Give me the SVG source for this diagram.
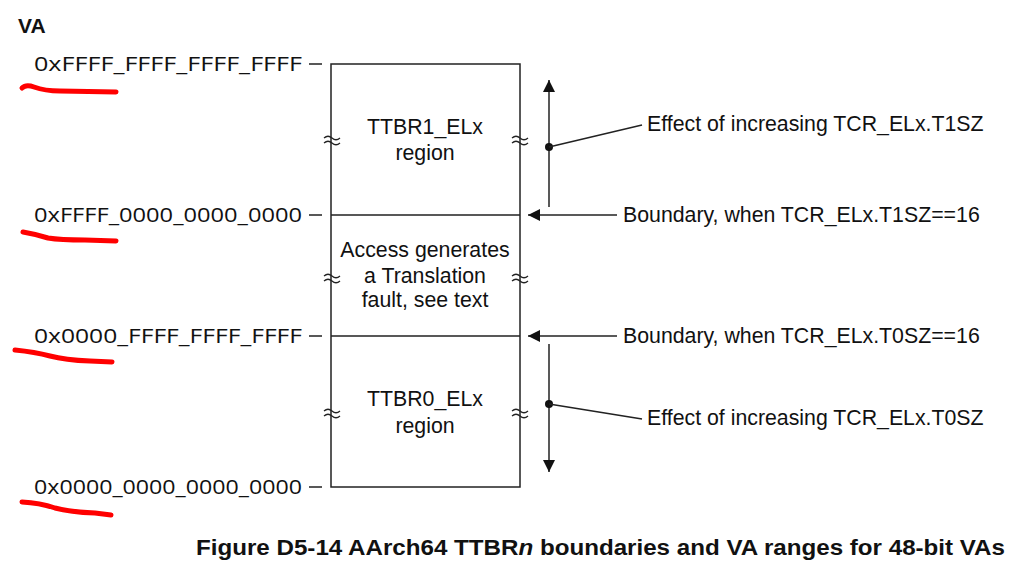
<svg xmlns="http://www.w3.org/2000/svg" width="1025" height="567" viewBox="0 0 1025 567">
<style>
.hex{font-family:"Open Sans","DejaVu Sans",sans-serif;font-size:20px;fill:#111}
.lab{font-family:"Liberation Sans",Arial,sans-serif;font-size:21.3px;fill:#111}
.ctr{text-anchor:middle}
.ln{stroke:#222;stroke-width:1.5;fill:none}
.red{stroke:#f00;stroke-width:5;fill:none;stroke-linecap:round;stroke-linejoin:round}
.brk{stroke:#222;stroke-width:1.3;fill:none}
</style>
<defs>
<marker id="ah2" viewBox="0 0 10 10" refX="10" refY="5" markerWidth="12" markerHeight="12" markerUnits="userSpaceOnUse" orient="auto"><path d="M0,0 L10,5 L0,10 z" fill="#111"/></marker>
</defs>
<rect width="1025" height="567" fill="#fff"/>
<text x="18" y="33" font-family="Liberation Sans,Arial,sans-serif" font-size="21" font-weight="bold" fill="#111">VA</text>
<g id="addresses">
<text class="hex" x="34" y="71" textLength="268" lengthAdjust="spacingAndGlyphs">0xFFFF_FFFF_FFFF_FFFF</text>
<text class="hex" x="34" y="222" textLength="268" lengthAdjust="spacingAndGlyphs">0xFFFF_0000_0000_0000</text>
<text class="hex" x="34" y="343" textLength="268" lengthAdjust="spacingAndGlyphs">0x0000_FFFF_FFFF_FFFF</text>
<text class="hex" x="34" y="494" textLength="268" lengthAdjust="spacingAndGlyphs">0x0000_0000_0000_0000</text>
<path class="ln" d="M309,64H322M309,215H322M309,336H322M309,487H322"/>
</g>
<g id="redmarks">
<path class="red" d="M22,88 Q26,84 34,87 Q45,91 60,91 L116,92"/>
<path class="red" d="M23,232 Q35,234 48,238 Q60,240 85,240 L116,241"/>
<path class="red" d="M15,350 Q35,352 50,356 Q65,360 90,361 L112,362"/>
<path class="red" d="M22,502 Q40,503 55,508 Q70,512 95,513 L111,515"/>
</g>
<g id="box">
<rect x="331" y="64" width="189" height="423" class="ln"/>
<path class="ln" d="M331,215H520M331,336H520"/>
</g>
<g id="breaks">
<path class="brk" d="M324,138 q4,-3.5 8,0 t8,0 M324,143 q4,-3.5 8,0 t8,0"/>
<path class="brk" d="M512,138 q4,-3.5 8,0 t8,0 M512,143 q4,-3.5 8,0 t8,0"/>
<path class="brk" d="M324,276 q4,-3.5 8,0 t8,0 M324,281 q4,-3.5 8,0 t8,0"/>
<path class="brk" d="M512,276 q4,-3.5 8,0 t8,0 M512,281 q4,-3.5 8,0 t8,0"/>
<path class="brk" d="M324,411 q4,-3.5 8,0 t8,0 M324,416 q4,-3.5 8,0 t8,0"/>
<path class="brk" d="M512,411 q4,-3.5 8,0 t8,0 M512,416 q4,-3.5 8,0 t8,0"/>
</g>
<g id="ttbr1">
<text class="lab ctr" x="425" y="134">TTBR1_ELx</text>
<text class="lab ctr" x="425" y="160">region</text>
</g>
<g id="fault">
<text class="lab ctr" x="425" y="257">Access generates</text>
<text class="lab ctr" x="425" y="283">a Translation</text>
<text class="lab ctr" x="425" y="307">fault, see text</text>
</g>
<g id="ttbr0">
<text class="lab ctr" x="425" y="406">TTBR0_ELx</text>
<text class="lab ctr" x="425" y="433">region</text>
</g>
<g id="connectors">
<path class="ln" d="M549,207V80" marker-end="url(#ah2)"/>
<circle cx="549" cy="147" r="4" fill="#111"/>
<path class="ln" d="M549,147L642,125"/>
<path class="ln" d="M617,215H528" marker-end="url(#ah2)"/>
<path class="ln" d="M617,336H528" marker-end="url(#ah2)"/>
<path class="ln" d="M549,344V472" marker-end="url(#ah2)"/>
<circle cx="549" cy="404" r="4" fill="#111"/>
<path class="ln" d="M549,404L642,419"/>
</g>
<g id="labels">
<text class="lab" x="647" y="131">Effect of increasing TCR_ELx.T1SZ</text>
<text class="lab" x="623" y="222">Boundary, when TCR_ELx.T1SZ==16</text>
<text class="lab" x="623" y="343">Boundary, when TCR_ELx.T0SZ==16</text>
<text class="lab" x="647" y="425">Effect of increasing TCR_ELx.T0SZ</text>
</g>
<text x="196" y="555" font-family="Liberation Sans,Arial,sans-serif" font-size="22" font-weight="bold" fill="#111" textLength="809" lengthAdjust="spacingAndGlyphs">Figure D5-14 AArch64 TTBR<tspan font-style="italic">n</tspan> boundaries and VA ranges for 48-bit VAs</text>
</svg>
